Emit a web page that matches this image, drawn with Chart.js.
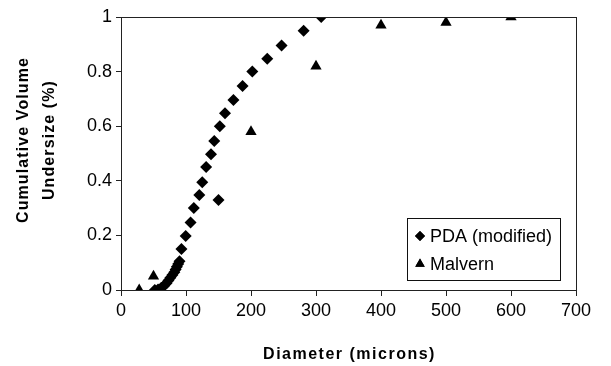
<!DOCTYPE html>
<html>
<head>
<meta charset="utf-8">
<script src="https://cdn.jsdelivr.net/npm/chart.js@4.4.0/dist/chart.umd.min.js"></script>
<style>
  html, body { margin: 0; padding: 0; background: #fff; }
  #wrap { width: 611px; height: 366px; }
</style>
</head>
<body>
<div id="wrap"><canvas id="c" width="611" height="366"></canvas></div>
<script>
// Diameter (microns) / cumulative volume undersize
const pdaX = [52, 57, 62, 66, 70, 73, 76, 79, 82, 84, 86, 88, 90, 93, 99.5, 107, 112, 120.5, 125, 131, 138.5, 143.5, 150, 152, 160, 173, 187, 202, 225, 247, 281, 308];
const pdaY = [0, 0.002, 0.008, 0.015, 0.025, 0.035, 0.045, 0.055, 0.065, 0.075, 0.085, 0.095, 0.105, 0.15, 0.198, 0.247, 0.3, 0.348, 0.395, 0.451, 0.497, 0.546, 0.33, 0.6, 0.647, 0.696, 0.747, 0.8, 0.847, 0.896, 0.95, 1.0];
const malvernX = [28, 50, 200, 300, 400, 500, 600];
const malvernY = [0, 0.05, 0.58, 0.82, 0.97, 0.98, 1.0];
const xTicks = [0, 100, 200, 300, 400, 500, 600, 700];
const yTicks = [0, 0.2, 0.4, 0.6, 0.8, 1];
const xTitle = 'Diameter (microns)';
const yTitle = ['Cumulative Volume', 'Undersize (%)'];

const FONT = '"Liberation Sans", Arial, sans-serif';

const toPoints = (xs, ys) => xs.map((x, i) => ({ x: x, y: ys[i] }));

// frame round the plot area, axis titles (spaced out like the original) and the legend box
const framePlugin = {
  id: 'frame',
  afterDraw(chart) {
    const { ctx, chartArea: a } = chart;
    ctx.save();
    ctx.strokeStyle = '#222';
    ctx.lineWidth = 1;
    ctx.strokeRect(a.left + 0.5, a.top + 0.5, a.right - a.left, a.bottom - a.top);

    // axis titles
    ctx.fillStyle = '#000';
    ctx.font = 'bold 16px ' + FONT;
    ctx.textAlign = 'center';
    ctx.textBaseline = 'middle';
    ctx.letterSpacing = '1.5px';
    ctx.fillText(xTitle, (a.left + a.right) / 2 + 1, 355);
    ctx.letterSpacing = '1.1px';
    ctx.save();
    ctx.translate(0, 141);
    ctx.rotate(-Math.PI / 2);
    yTitle.forEach((line, i) => ctx.fillText(line, 1, 24 + i * 26));
    ctx.restore();
    ctx.letterSpacing = '0px';

    // legend
    const bx = 407, by = 218, bw = 153, bh = 62;
    ctx.fillStyle = '#fff';
    ctx.fillRect(bx, by, bw, bh);
    ctx.strokeStyle = '#111';
    ctx.strokeRect(bx + 0.5, by + 0.5, bw, bh);
    ctx.font = '18px ' + FONT;
    ctx.textAlign = 'left';
    chart.data.datasets.forEach((ds, i) => {
      const cy = by + 18 + i * 28;
      ctx.fillStyle = '#000';
      Chart.helpers.drawPoint(ctx, { pointStyle: ds.pointStyle, radius: ds.pointRadius - 1, borderWidth: 0 }, bx + 13, cy);
      ctx.fill();
      ctx.fillText(ds.label, bx + 23, cy + 1);
    });
    ctx.restore();
  }
};

new Chart(document.getElementById('c'), {
  type: 'scatter',
  data: {
    datasets: [
      {
        label: 'PDA (modified)',
        data: toPoints(pdaX, pdaY),
        pointStyle: 'rectRot',
        pointRadius: 6,
        backgroundColor: '#000',
        borderColor: '#000',
        borderWidth: 0
      },
      {
        label: 'Malvern',
        data: toPoints(malvernX, malvernY),
        pointStyle: 'triangle',
        pointRadius: 6.5,
        backgroundColor: '#000',
        borderColor: '#000',
        borderWidth: 0
      }
    ]
  },
  plugins: [framePlugin],
  options: {
    responsive: false,
    animation: false,
    layout: { padding: { top: 17, right: 35, left: 0, bottom: 0 } },
    plugins: {
      legend: { display: false },
      tooltip: { enabled: false }
    },
    scales: {
      x: {
        type: 'linear',
        min: 0,
        max: 700,
        afterBuildTicks: s => { s.ticks = xTicks.map(v => ({ value: v })); },
        afterFit: s => { s.height = 76; },
        grid: { drawOnChartArea: false, drawTicks: true, tickLength: 6, color: '#222' },
        border: { color: '#222' },
        ticks: { color: '#000', font: { family: FONT, size: 18 }, padding: 4, maxRotation: 0 }
      },
      y: {
        type: 'linear',
        min: 0,
        max: 1,
        afterBuildTicks: s => { s.ticks = yTicks.map(v => ({ value: v })); },
        afterFit: s => { s.width = 121; },
        grid: { drawOnChartArea: false, drawTicks: true, tickLength: 5, color: '#222' },
        border: { color: '#222' },
        ticks: { color: '#000', font: { family: FONT, size: 18 }, padding: 4, callback: v => String(v) }
      }
    }
  }
});
</script>
</body>
</html>
